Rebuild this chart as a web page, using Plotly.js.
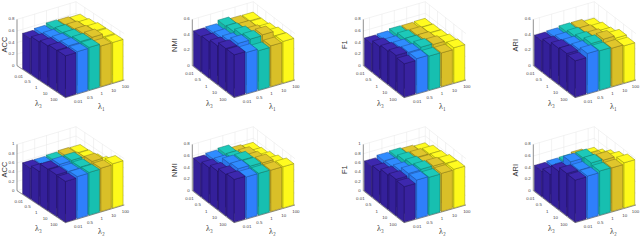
<!DOCTYPE html>
<html><head><meta charset="utf-8">
<script src="https://cdn.plot.ly/plotly-3.0.1.min.js"></script>
<style>html,body{margin:0;padding:0;background:#fff}#c{width:640px;height:250px}</style>
</head><body><div id="c"></div>
<script>
var xTicks = ['0.01','0.5','1','10','100'];
var yTicks = ['0.01','0.5','1','10','100'];
var acc1 = [[.61,.635,.668,.66,.645],[.654,.667,.69,.69,.67],[.685,.70,.71,.714,.70],[.71,.725,.737,.75,.70],[.714,.725,.737,.70,.70]];
var nmi1 = [[.453,.46,.50,.476,.473],[.467,.478,.51,.494,.478],[.499,.51,.55,.52,.50],[.547,.567,.577,.587,.528],[.548,.533,.51,.527,.538]];
var f11  = [[.48,.49,.518,.515,.523],[.54,.517,.558,.556,.535],[.574,.57,.576,.576,.547],[.61,.604,.63,.616,.584],[.576,.604,.587,.58,.608]];
var ari1 = [[.397,.407,.426,.424,.395],[.428,.434,.452,.438,.426],[.468,.465,.48,.469,.444],[.482,.49,.52,.53,.498],[.47,.52,.509,.496,.481]];
var acc2 = [[.667,.663,.68,.70,.69],[.72,.716,.69,.73,.70],[.894,.92,.93,.76,.74],[.897,.893,.91,.957,.81],[.88,.908,.92,.936,.954]];
var nmi2 = [[.566,.59,.616,.56,.54],[.607,.615,.63,.637,.564],[.66,.725,.728,.667,.605],[.713,.75,.735,.73,.653],[.737,.72,.72,.714,.712]];
var f12  = [[.645,.693,.71,.69,.666],[.677,.708,.76,.757,.752],[.743,.76,.805,.765,.773],[.787,.837,.85,.844,.826],[.766,.833,.815,.823,.835]];
var ari2 = [[.44,.453,.46,.486,.455],[.49,.517,.524,.51,.535],[.66,.76,.768,.68,.633],[.73,.725,.79,.777,.717],[.725,.734,.76,.754,.78]];
var colNames = ['ACC','NMI','F1','ARI'];
var zTicks = [[0,.2,.4,.6,.8],[0,.2,.4,.6],[0,.2,.4,.6,.8],[0,.2,.4,.6],[0,.2,.4,.6,.8,1],[0,.2,.4,.6,.8],[0,.2,.4,.6,.8,1],[0,.2,.4,.6,.8]];
var values = [acc1,nmi1,f11,ari1,acc2,nmi2,f12,ari2];
var sideColors = ['#38229f','#2f7ffb','#17bfb0','#d9bf28','#fdf91a'];
var topColors  = ['#3d28ae','#2f8cff','#1dc9b9','#e0c62c','#fffb20'];
var leftColors = ['#34209a','#2b75ea','#15b3a5','#cdb425','#f1ee16'];
var edgeColors = ['#20125e','#1f4f9c','#0f7a70','#85741a','#8f8d10'];
var W=640,H=250,half=0.44;
var geom=[{L:[17,65.7],xv:[48.3,32],yv:[59,-17.7],x0:0},
          {L:[32.3,65.7],xv:[41.7,32],yv:[61,-17.7],x0:.5},
          {L:[43.3,65.7],xv:[40.7,32],yv:[62,-17.7],x0:.5},
          {L:[53.3,65.7],xv:[41.7,32],yv:[61,-17.7],x0:.5}];
var titlePos=[[3.5,45],[14,45],[24,45],[34.5,45]];
var xtPos=[[38,103],[49,103],[60,103],[71,103]];
var ytPos=[[101,106],[112,106],[122,106],[133,106]];
var zPix=46.3;
var traces=[],layout={width:W,height:H,margin:{l:0,r:0,t:0,b:0},paper_bgcolor:'#fff',plot_bgcolor:'rgba(0,0,0,0)',showlegend:false,annotations:[]};

values.forEach(function(v,n){
  var col=n%4,row=n<4?0:1,g=geom[col],zt=zTicks[n],zmax=zt[zt.length-1],ax=n?(n+1):'';
  var xa='x'+ax,ya='y'+ax;
  layout['xaxis'+ax]={domain:[col/4,(col+1)/4],range:[0,160],visible:false,fixedrange:true};
  layout['yaxis'+ax]={domain:[row?0:.5,row?.5:1],range:[125,0],visible:false,fixedrange:true};
  function P(x,y,z){var u=(x-g.x0)/(5.5-g.x0),w=(y-.5)/5,h=z/zmax*zPix;
    return [g.L[0]+u*g.xv[0]+w*g.yv[0], g.L[1]+u*g.xv[1]+w*g.yv[1]-h];}
  function line(a,b,c){var A=P.apply(null,a),B=P.apply(null,b);
    traces.push({type:'scatter',mode:'lines',xaxis:xa,yaxis:ya,x:[A[0],B[0]],y:[A[1],B[1]],line:{color:c,width:c==='#444'?.6:.5},hoverinfo:'skip'});}
  var grid='#e6e6e6';
  zt.forEach(function(z){ if(z>0) line([g.x0,.5,z],[g.x0,5.5,z],grid),line([g.x0,5.5,z],[5.5,5.5,z],grid); });
  [1,2,3,4,5].forEach(function(t){ line([g.x0,t,0],[g.x0,t,zmax],grid); line([t,5.5,0],[t,5.5,zmax],grid);
     line([g.x0,t,0],[5.5,t,0],grid); line([t,.5,0],[t,5.5,0],grid); });
  line([g.x0,5.5,0],[g.x0,5.5,zmax],grid);
  line([g.x0,.5,0],[g.x0,5.5,0],grid); line([g.x0,5.5,0],[5.5,5.5,0],grid);
  line([g.x0,.5,0],[g.x0,.5,zmax],'#444');
  line([g.x0,.5,0],[5.5,.5,0],'#444');
  line([5.5,.5,0],[5.5,5.5,0],'#444');
  function face(pts,fill,edge){var xs=[],ys=[];pts.concat([pts[0]]).forEach(function(p){var q=P(p[0],p[1],p[2]);xs.push(q[0]);ys.push(q[1]);});
    traces.push({type:'scatter',mode:'lines',xaxis:xa,yaxis:ya,x:xs,y:ys,fill:'toself',fillcolor:fill,line:{color:edge,width:.5},hoverinfo:'skip'});}
  for(var j=4;j>=0;j--)for(var i=0;i<5;i++){
    var a=i+1-half,b=i+1+half,c=j+1-half,d=j+1+half,z=v[i][j];
    face([[a,c,0],[b,c,0],[b,c,z],[a,c,z]],leftColors[j],edgeColors[j]);
    face([[b,c,0],[b,d,0],[b,d,z],[b,c,z]],sideColors[j],edgeColors[j]);
    face([[a,c,z],[b,c,z],[b,d,z],[a,d,z]],topColors[j],edgeColors[j]);
  }
  function labels(xs,ys,txt,pos){traces.push({type:'scatter',mode:'text',xaxis:xa,yaxis:ya,x:xs,y:ys,text:txt,textposition:pos,textfont:{family:'Liberation Sans',size:4.4,color:'#444'},cliponaxis:false,hoverinfo:'skip'});}
  var zx=[],zy=[];zt.forEach(function(z){var q=P(g.x0,.5,z);zx.push(q[0]-2.5);zy.push(q[1]);});
  labels(zx,zy,zt.map(String),'middle left');
  var xx=[],xy=[];[1,2,3,4,5].forEach(function(t){var q=P(t,.5,0);xx.push(q[0]-7);xy.push(q[1]+5);});
  labels(xx,xy,xTicks,'middle center');
  var yx=[],yy=[];[1,2,3,4,5].forEach(function(t){var q=P(5.5,t,0);yx.push(Math.min(q[0]+7,155.5));yy.push(q[1]+5.5);});
  labels(yx,yy,yTicks,'middle center');
  function ann(x,y,t,ang,size,fam){layout.annotations.push({xref:xa,yref:ya,x:x,y:y,text:t,showarrow:false,textangle:ang,font:{family:fam,size:size,color:'#333'},xanchor:'center',yanchor:'middle'});}
  ann(titlePos[col][0],titlePos[col][1],colNames[col],-90,7.5,'Liberation Sans');
  ann(xtPos[col][0],xtPos[col][1],'λ₃',0,8,'Liberation Serif');
  ann(ytPos[col][0],ytPos[col][1],row?'λ₂':'λ₁',0,8,'Liberation Serif');
});
Plotly.newPlot('c',traces,layout,{displayModeBar:false,staticPlot:true});
</script></body></html>
